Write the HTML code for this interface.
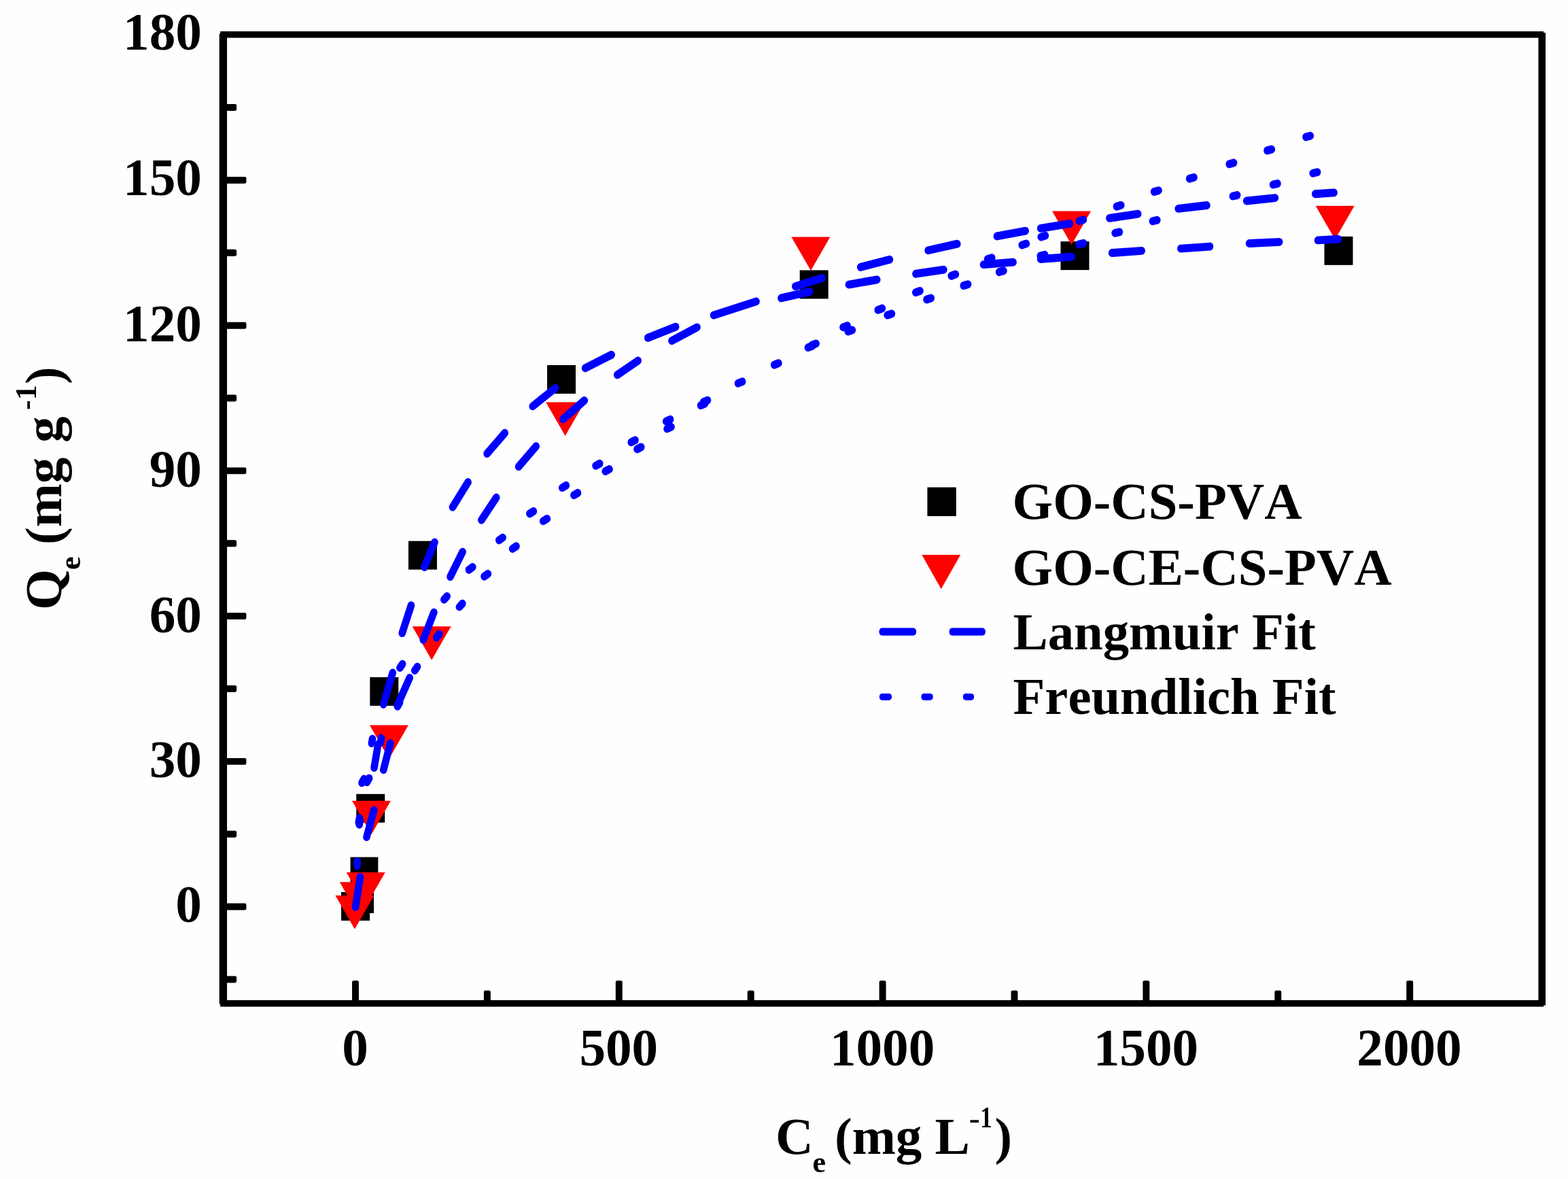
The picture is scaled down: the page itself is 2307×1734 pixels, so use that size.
<!DOCTYPE html>
<html lang="en">
<head>
<meta charset="utf-8">
<title>Adsorption isotherms: Qe vs Ce</title>
<style>
html,body{margin:0;padding:0;background:#fefefe;}
body{width:2307px;height:1734px;overflow:hidden;}
svg{display:block;}
svg text{font-family:"Liberation Serif","DejaVu Serif",serif;font-weight:bold;fill:#000;font-kerning:none;}
</style>
</head>
<body>
<svg width="2307" height="1734" viewBox="0 0 2307 1734">
<rect x="0" y="0" width="2307" height="1734" fill="#fefefe"/>
<g id="frame" fill="#000">
<rect x="322.7" y="49.6" width="11.30" height="1427.00"/>
<rect x="2263.4" y="48.1" width="10.60" height="1430.50"/>
<rect x="324.1" y="46.1" width="1947.10" height="9.50"/>
<rect x="324.1" y="1471.0" width="1947.10" height="9.60"/>
</g>
<g id="yticks" fill="#000">
<rect x="330.0" y="1328.62" width="32.40" height="9.95" rx="2.4"/>
<rect x="330.0" y="1114.89" width="32.40" height="9.95" rx="2.4"/>
<rect x="330.0" y="901.15" width="32.40" height="9.95" rx="2.4"/>
<rect x="330.0" y="687.42" width="32.40" height="9.95" rx="2.4"/>
<rect x="330.0" y="473.68" width="32.40" height="9.95" rx="2.4"/>
<rect x="330.0" y="259.95" width="32.40" height="9.95" rx="2.4"/>
<rect x="330.0" y="1435.49" width="18.10" height="9.95" rx="2.4"/>
<rect x="330.0" y="1221.76" width="18.10" height="9.95" rx="2.4"/>
<rect x="330.0" y="1008.02" width="18.10" height="9.95" rx="2.4"/>
<rect x="330.0" y="794.29" width="18.10" height="9.95" rx="2.4"/>
<rect x="330.0" y="580.55" width="18.10" height="9.95" rx="2.4"/>
<rect x="330.0" y="366.82" width="18.10" height="9.95" rx="2.4"/>
<rect x="330.0" y="153.08" width="18.10" height="9.95" rx="2.4"/>
</g>
<g id="xticks" fill="#000">
<rect x="517.99" y="1442.2" width="9.95" height="32.80" rx="2.4"/>
<rect x="905.79" y="1442.2" width="9.95" height="32.80" rx="2.4"/>
<rect x="1293.61" y="1442.2" width="9.95" height="32.80" rx="2.4"/>
<rect x="1681.42" y="1442.2" width="9.95" height="32.80" rx="2.4"/>
<rect x="2069.22" y="1442.2" width="9.95" height="32.80" rx="2.4"/>
<rect x="711.89" y="1456.8" width="9.95" height="18.20" rx="2.4"/>
<rect x="1099.70" y="1456.8" width="9.95" height="18.20" rx="2.4"/>
<rect x="1487.51" y="1456.8" width="9.95" height="18.20" rx="2.4"/>
<rect x="1875.32" y="1456.8" width="9.95" height="18.20" rx="2.4"/>
</g>
<g id="ylabels" font-size="77.2" text-anchor="end">
<text x="296.9" y="1356.30">0</text>
<text x="296.9" y="1142.56">30</text>
<text x="296.9" y="929.83">60</text>
<text x="296.9" y="716.09">90</text>
<text x="296.9" y="502.36">120</text>
<text x="296.9" y="287.22">150</text>
<text x="296.9" y="73.19">180</text>
</g>
<g id="xlabels" font-size="77.2" text-anchor="middle">
<text x="522.5" y="1567.4">0</text>
<text x="910.3" y="1567.4">500</text>
<text x="1298.1" y="1567.4">1000</text>
<text x="1685.9" y="1567.4">1500</text>
<text x="2073.5" y="1567.4">2000</text>
</g>
<text id="xtitle" font-size="77.0" x="1141.0" y="1696.9"><tspan x="1141.0" y="1696.9">C</tspan><tspan x="1195.5" y="1723.5" font-size="44.0">e </tspan><tspan x="1228.0" y="1696.9">(mg </tspan><tspan x="1375.4" y="1696.9">L</tspan><tspan x="1425.8" y="1659.8" font-size="44.0" textLength="16" lengthAdjust="spacingAndGlyphs">-</tspan><tspan x="1442.2" y="1658.4" font-size="44.0" textLength="17.5" lengthAdjust="spacingAndGlyphs">1</tspan><tspan x="1463.5" y="1696.9">)</tspan></text>
<text id="ytitle" font-size="77.0" transform="translate(90.0,897.0) rotate(-90)" x="0" y="0"><tspan x="0" y="0">Q</tspan><tspan x="59.0" y="27.5" font-size="44.0">e </tspan><tspan x="96.0" y="0">(mg </tspan><tspan x="246.0" y="0">g</tspan><tspan x="294.0" y="-37.5" font-size="44.0">-1</tspan><tspan x="332.0" y="0">)</tspan></text>
<g id="squares" fill="#000">
<rect x="502.0" y="1312.0" width="42.0" height="42.0"/>
<rect x="508.0" y="1301.0" width="42.0" height="42.0"/>
<rect x="515.5" y="1260.6" width="40.8" height="40.6"/>
<rect x="524.2" y="1167.8" width="42.0" height="42.0"/>
<rect x="544.3" y="996.0" width="42.0" height="42.0"/>
<rect x="600.9" y="795.7" width="42.0" height="42.0"/>
<rect x="805.0" y="537.0" width="42.0" height="42.0"/>
<rect x="1176.7" y="397.4" width="42.0" height="42.0"/>
<rect x="1560.5" y="355.1" width="42.0" height="42.0"/>
<rect x="1948.5" y="347.8" width="42.0" height="42.0"/>
</g>
<g id="tris" fill="#f00">
<polygon points="493.4,1316.9 550.4,1316.9 521.9,1366.4"/>
<polygon points="499.7,1297.3 556.7,1297.3 528.2,1346.8"/>
<polygon points="509.7,1283.0 566.7,1283.0 538.2,1332.5"/>
<polygon points="517.9,1177.8 574.9,1177.8 546.4,1227.3"/>
<polygon points="543.9,1066.6 600.9,1066.6 572.4,1116.1"/>
<polygon points="606.6,921.2 663.6,921.2 635.1,970.7"/>
<polygon points="803.1,591.5 860.1,591.5 831.6,641.0"/>
<polygon points="1164.4,348.4 1221.4,348.4 1192.9,397.9"/>
<polygon points="1548.1,310.6 1605.1,310.6 1576.6,360.1"/>
<polygon points="1935.7,302.8 1992.7,302.8 1964.2,352.3"/>
</g>
<g id="dashes" stroke="#00f" stroke-width="10.6" stroke-linecap="round" fill="none" transform="scale(1 1.12)">
<line x1="523.0" y1="1191.17" x2="530.0" y2="1151.69"/>
<line x1="539.4" y1="1099.22" x2="550.2" y2="1063.73"/>
<line x1="550.5" y1="1008.22" x2="556.3" y2="977.40"/>
<line x1="564.2" y1="1010.92" x2="574.3" y2="976.05"/>
<line x1="564.2" y1="925.03" x2="577.7" y2="883.45"/>
<line x1="584.6" y1="926.40" x2="602.7" y2="890.12"/>
<line x1="591.7" y1="831.37" x2="604.9" y2="794.97"/>
<line x1="622.8" y1="840.14" x2="638.4" y2="804.15"/>
<line x1="624.4" y1="744.70" x2="639.5" y2="712.09"/>
<line x1="662.5" y1="757.31" x2="680.6" y2="724.66"/>
<line x1="665.9" y1="665.91" x2="688.6" y2="633.20"/>
<line x1="708.4" y1="682.89" x2="730.2" y2="653.36"/>
<line x1="716.6" y1="595.71" x2="742.7" y2="568.58"/>
<line x1="763.0" y1="612.76" x2="788.7" y2="585.99"/>
<line x1="783.7" y1="533.48" x2="817.0" y2="509.56"/>
<line x1="828.4" y1="550.42" x2="859.8" y2="525.92"/>
<line x1="861.1" y1="483.34" x2="899.7" y2="465.86"/>
<line x1="908.2" y1="492.28" x2="938.7" y2="473.62"/>
<line x1="953.2" y1="443.66" x2="994.1" y2="429.10"/>
<line x1="988.5" y1="447.43" x2="1025.5" y2="429.80"/>
<line x1="1050.0" y1="413.98" x2="1112.6" y2="395.85"/>
<line x1="1149.4" y1="391.45" x2="1191.2" y2="382.93"/>
<line x1="1170.2" y1="376.04" x2="1209.3" y2="365.21"/>
<line x1="1248.9" y1="373.72" x2="1290.2" y2="367.27"/>
<line x1="1266.2" y1="350.80" x2="1308.9" y2="340.89"/>
<line x1="1347.5" y1="359.54" x2="1388.4" y2="354.12"/>
<line x1="1365.6" y1="328.77" x2="1408.3" y2="320.25"/>
<line x1="1447.0" y1="347.44" x2="1490.6" y2="344.34"/>
<line x1="1466.9" y1="310.23" x2="1508.7" y2="303.26"/>
<line x1="1531.1" y1="340.21" x2="1576.5" y2="337.11"/>
<line x1="1531.1" y1="299.80" x2="1573.8" y2="293.60"/>
<line x1="1636.1" y1="332.18" x2="1679.7" y2="329.34"/>
<line x1="1632.4" y1="286.42" x2="1674.2" y2="281.00"/>
<line x1="1737.3" y1="326.47" x2="1780.0" y2="323.71"/>
<line x1="1733.7" y1="274.02" x2="1775.5" y2="269.64"/>
<line x1="1838.1" y1="319.61" x2="1882.2" y2="317.71"/>
<line x1="1834.1" y1="263.85" x2="1875.9" y2="259.90"/>
<line x1="1939.0" y1="315.50" x2="1969.0" y2="313.97"/>
<line x1="1935.3" y1="254.68" x2="1962.7" y2="253.00"/>
</g>
<g id="dots" stroke="#00f" stroke-width="10.6" stroke-linecap="round" fill="none" transform="scale(1 1.12)">
<line x1="1921.4" y1="179.88" x2="1927.8" y2="178.33"/>
<line x1="1864.4" y1="197.65" x2="1870.8" y2="196.10"/>
<line x1="1808.7" y1="215.46" x2="1815.1" y2="213.83"/>
<line x1="1750.1" y1="234.56" x2="1756.5" y2="232.94"/>
<line x1="1698.1" y1="251.83" x2="1704.5" y2="250.13"/>
<line x1="1642.9" y1="271.21" x2="1649.3" y2="269.51"/>
<line x1="1587.8" y1="290.27" x2="1594.0" y2="288.48"/>
<line x1="1531.7" y1="311.29" x2="1537.9" y2="309.43"/>
<line x1="1503.7" y1="321.82" x2="1509.9" y2="319.96"/>
<line x1="1453.0" y1="340.43" x2="1459.2" y2="338.50"/>
<line x1="1399.7" y1="362.26" x2="1405.9" y2="360.24"/>
<line x1="1347.3" y1="384.04" x2="1353.5" y2="382.03"/>
<line x1="1291.7" y1="406.99" x2="1297.9" y2="404.97"/>
<line x1="1931.7" y1="227.44" x2="1938.1" y2="226.13"/>
<line x1="1873.1" y1="242.44" x2="1879.5" y2="241.13"/>
<line x1="1813.8" y1="257.62" x2="1820.2" y2="256.31"/>
<line x1="1695.9" y1="290.42" x2="1702.3" y2="289.04"/>
<line x1="1640.6" y1="306.05" x2="1647.0" y2="304.66"/>
<line x1="1587.7" y1="320.78" x2="1594.1" y2="319.40"/>
<line x1="1530.8" y1="335.96" x2="1537.2" y2="334.58"/>
<line x1="1470.1" y1="357.24" x2="1476.5" y2="355.62"/>
<line x1="1417.7" y1="375.05" x2="1424.1" y2="373.34"/>
<line x1="1363.5" y1="393.30" x2="1369.7" y2="391.52"/>
<line x1="1305.7" y1="413.84" x2="1311.9" y2="412.06"/>
<line x1="1247.7" y1="435.31" x2="1253.9" y2="433.44"/>
<line x1="1240.5" y1="429.76" x2="1246.7" y2="427.74"/>
<line x1="1194.4" y1="453.28" x2="1200.6" y2="451.19"/>
<line x1="1188.9" y1="456.40" x2="1195.1" y2="454.31"/>
<line x1="1139.2" y1="479.12" x2="1145.4" y2="476.95"/>
<line x1="1085.9" y1="503.35" x2="1092.1" y2="501.11"/>
<line x1="1035.0" y1="527.98" x2="1041.0" y2="525.59"/>
<line x1="1031.0" y1="532.45" x2="1037.0" y2="530.05"/>
<line x1="980.1" y1="553.33" x2="986.1" y2="550.78"/>
<line x1="981.5" y1="563.06" x2="987.5" y2="560.51"/>
<line x1="928.7" y1="580.72" x2="934.5" y2="578.03"/>
<line x1="937.5" y1="589.74" x2="943.3" y2="587.05"/>
<line x1="876.5" y1="611.60" x2="882.3" y2="608.76"/>
<line x1="890.7" y1="618.92" x2="896.5" y2="616.08"/>
<line x1="827.2" y1="640.51" x2="832.8" y2="637.53"/>
<line x1="844.4" y1="650.24" x2="850.0" y2="647.26"/>
<line x1="779.3" y1="674.51" x2="784.9" y2="671.39"/>
<line x1="799.2" y1="684.24" x2="804.8" y2="681.12"/>
<line x1="734.2" y1="709.34" x2="739.6" y2="706.01"/>
<line x1="754.1" y1="720.59" x2="759.5" y2="717.26"/>
<line x1="689.9" y1="748.16" x2="695.3" y2="744.70"/>
<line x1="712.5" y1="757.00" x2="717.9" y2="753.54"/>
<line x1="653.3" y1="787.37" x2="657.7" y2="782.99"/>
<line x1="675.9" y1="797.01" x2="680.3" y2="792.63"/>
<line x1="642.2" y1="837.23" x2="646.2" y2="832.59"/>
<line x1="588.4" y1="876.88" x2="592.2" y2="872.05"/>
<line x1="610.2" y1="880.45" x2="614.0" y2="875.62"/>
<line x1="584.9" y1="927.55" x2="588.1" y2="922.45"/>
<line x1="546.8" y1="976.03" x2="548.0" y2="970.22"/>
<line x1="559.8" y1="975.22" x2="561.0" y2="969.42"/>
<line x1="532.4" y1="1028.00" x2="535.6" y2="1022.89"/>
<line x1="539.9" y1="1027.11" x2="543.1" y2="1022.00"/>
<line x1="527.7" y1="1080.13" x2="528.9" y2="1074.33"/>
<line x1="528.7" y1="1082.81" x2="529.9" y2="1077.01"/>
<line x1="525.5" y1="1136.87" x2="525.7" y2="1130.98"/>
</g>
<g id="legend">
<rect x="1364.4" y="716.7" width="42.4" height="42.4" fill="#000"/>
<polygon points="1356.3,816.0 1413.2,816.0 1384.7,866.3" fill="#f00"/>
<g fill="#00f">
<rect x="1293.5" y="923.6" width="54.6" height="11.2" rx="4.5" ry="5"/>
<rect x="1396.6" y="923.6" width="53.3" height="11.2" rx="4.5" ry="5"/>
<rect x="1293.9" y="1019.9" width="18.1" height="10.0" rx="4" ry="4.5"/>
<rect x="1355.4" y="1019.9" width="17.3" height="10.0" rx="4" ry="4.5"/>
<rect x="1416.8" y="1019.9" width="16.3" height="10.0" rx="4" ry="4.5"/>
</g>
<g font-size="76.7">
<text x="1489.5" y="763.2">GO-CS-PVA</text>
<text x="1489.5" y="859.8">GO-CE-CS-PVA</text>
<text x="1490.5" y="955.3">Langmuir Fit</text>
<text x="1490.5" y="1049.5">Freundlich Fit</text>
</g>
</g>
</svg>
</body>
</html>
